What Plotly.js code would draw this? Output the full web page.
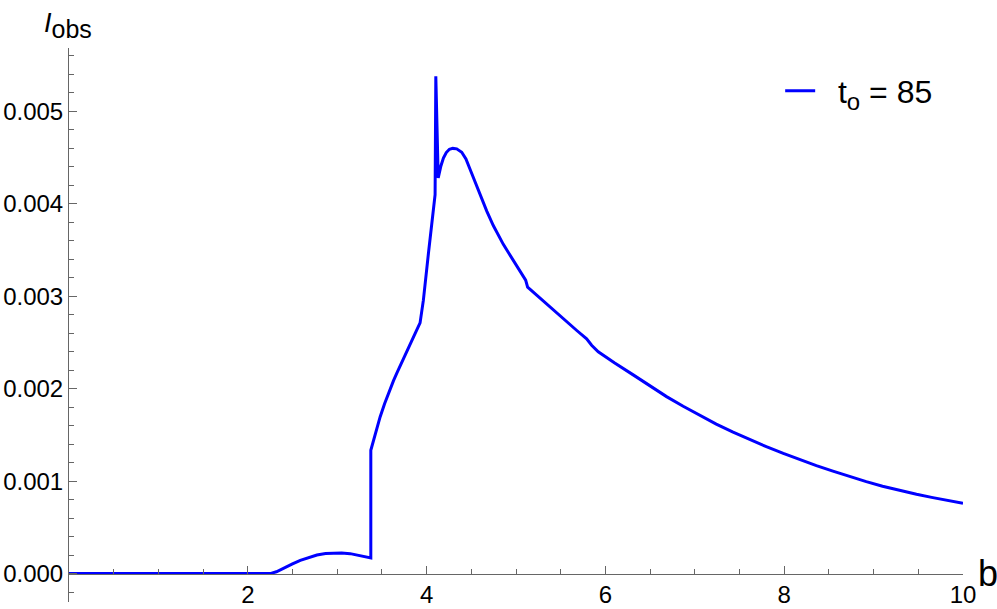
<!DOCTYPE html>
<html>
<head>
<meta charset="utf-8">
<script src="https://cdn.plot.ly/plotly-3.0.1.min.js"></script>
<style>
  body { margin: 0; background: #fff; }
  #chart { width: 997px; height: 609px; }
</style>
</head>
<body>
<div id="chart"></div>
<script>
// Data
let bValues = [
  0, 1, 2, 2.25, 2.32, 2.4, 2.5, 2.587, 2.68, 2.773, 2.87, 2.959, 3.05, 3.145, 3.22, 3.294, 3.376,
  3.376, 3.42, 3.48, 3.53, 3.58, 3.63, 3.667, 3.73, 3.78, 3.83, 3.88, 3.927,
  3.964, 4.02, 4.084, 4.095, 4.103, 4.13, 4.16, 4.188, 4.22, 4.255, 4.293, 4.337, 4.393,
  4.44, 4.486, 4.542, 4.61, 4.673, 4.746, 4.8, 4.858, 4.915, 4.97, 5.044, 5.108,
  5.13, 5.2, 5.343, 5.45, 5.567, 5.68, 5.79, 5.846, 5.92, 6.1,
  6.311, 6.5, 6.684, 6.87, 7.056, 7.24, 7.428, 7.61, 7.8, 7.99, 8.173, 8.36,
  8.545, 8.73, 8.918, 9.1, 9.29, 9.48, 9.663, 9.83, 10
];
let intensity = [
  0, 0, 0, 0, 0.00002, 0.00006, 0.000105, 0.000144, 0.000177, 0.000202, 0.000217, 0.000223, 0.000222, 0.000216, 0.000203, 0.000187, 0.000169,
  0.001334, 0.001497, 0.001695, 0.001838, 0.001968, 0.002088, 0.002168, 0.002306, 0.002414, 0.002516, 0.002616, 0.002712,
  0.002958, 0.00346, 0.004004, 0.0041, 0.00538, 0.00428, 0.00441, 0.004495, 0.004555, 0.00459, 0.0046, 0.004595, 0.004558,
  0.004485, 0.004375, 0.004238, 0.004075, 0.003922, 0.003765, 0.003662, 0.003562, 0.003474, 0.003392, 0.003276, 0.003174,
  0.0031, 0.00304, 0.00292, 0.00283, 0.00272, 0.00263, 0.00254, 0.00247, 0.0024, 0.00228,
  0.00215, 0.002028, 0.001915, 0.00181, 0.00171, 0.001618, 0.00153, 0.00145, 0.001373, 0.0013, 0.001233, 0.001168,
  0.001108, 0.00105, 0.000995, 0.000945, 0.0009, 0.000858, 0.000822, 0.00079, 0.00076
];
let xTickVals = [2, 4, 6, 8, 10];
let xTickText = ["2", "4", "6", "8", "10"];
let seriesName = "t<sub><span style=\"font-size:24px\">o</span></sub> = 85";

let font = "Liberation Sans, Arial, sans-serif";
let axisColor = "#666";

function createChart() {
  let yMin = -0.000307;
  let yMax = 0.005686;

  let traces = [{
    x: bValues,
    y: intensity,
    type: "scatter",
    mode: "lines",
    name: "&nbsp;&nbsp;" + seriesName,
    line: { color: "#0000ff", width: 3 }
  }];

  let layout = {
    width: 997,
    height: 609,
    margin: { l: 68.5, r: 33.5, t: 48, b: 7 },
    paper_bgcolor: "#fff",
    plot_bgcolor: "#fff",
    font: { family: font, size: 24, color: "#000" },
    showlegend: true,
    legend: {
      x: 0.7955, xanchor: "left",
      y: 0.972, yanchor: "top",
      bgcolor: "rgba(0,0,0,0)",
      font: { size: 32 },
      itemwidth: 30
    },
    xaxis: {
      range: [0, 10],
      anchor: "free",
      position: -yMin / (yMax - yMin),
      showgrid: false,
      zeroline: false,
      showline: true,
      linecolor: axisColor,
      linewidth: 1,
      ticks: "inside",
      ticklen: 8,
      tickcolor: axisColor,
      tickmode: "array",
      tickvals: xTickVals,
      ticktext: xTickText,
      minor: { dtick: 0.5, tick0: 0, ticks: "inside", ticklen: 4.5, tickcolor: axisColor, showgrid: false }
    },
    yaxis: {
      range: [yMin, yMax],
      showgrid: false,
      zeroline: false,
      showline: true,
      linecolor: axisColor,
      linewidth: 1,
      ticks: "inside",
      ticklen: 8,
      tickcolor: axisColor,
      dtick: 0.001,
      tick0: 0,
      tickformat: ".3f",
      minor: { dtick: 0.0002, tick0: 0, ticks: "inside", ticklen: 4.5, tickcolor: axisColor, showgrid: false }
    },
    annotations: [{
      text: "<i>I</i><sub><span style=\"font-size:25px\">obs</span></sub>",
      xref: "paper", yref: "paper",
      x: -0.03, y: 1.075,
      xanchor: "left", yanchor: "top",
      showarrow: false,
      font: { size: 27 }
    }, {
      text: "b",
      xref: "paper", yref: "y",
      x: 1.0145, y: 0,
      xanchor: "left", yanchor: "middle",
      showarrow: false,
      font: { size: 36 }
    }]
  };

  Plotly.newPlot("chart", traces, layout, { staticPlot: true });
}

createChart();
</script>
</body>
</html>
